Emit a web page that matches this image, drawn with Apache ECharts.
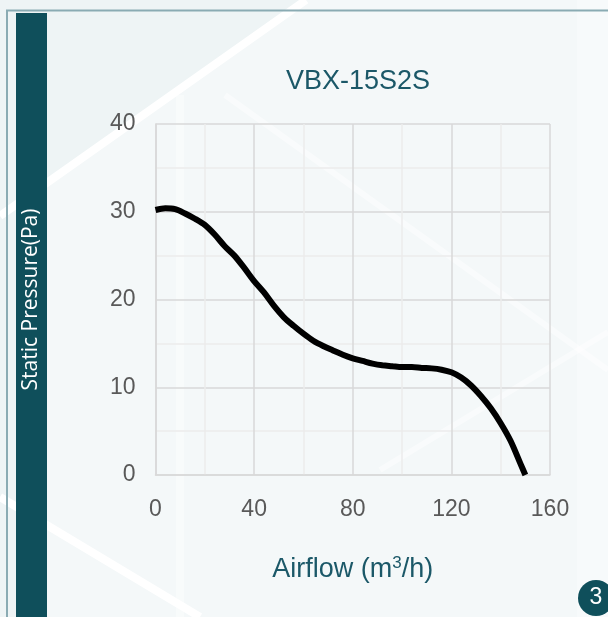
<!DOCTYPE html>
<html>
<head>
<meta charset="utf-8">
<style>
html,body{margin:0;padding:0;background:#eef4f5;}
#c{width:608px;height:617px;}
</style>
<script src="https://cdn.jsdelivr.net/npm/echarts@6/dist/echarts.min.js"></script>
</head>
<body>
<div id="c"></div>
<script>
// Data
const titleText = 'VBX-15S2S';
const xName = 'Airflow (m{sup|3}/h)';
const yName = 'Static Pressure(Pa)';
const airflow = [0, 4, 8, 12, 16, 20, 24, 28, 32, 36, 40, 44, 48, 52, 56, 60, 64, 68, 72, 76, 80, 84, 88, 92, 96, 100, 104, 108, 112, 116, 120, 124, 128, 132, 136, 140, 144, 148, 150];
const pressure = [30.2, 30.4, 30.3, 29.8, 29.2, 28.5, 27.4, 26.1, 25.0, 23.6, 22.1, 20.8, 19.3, 18.0, 17.0, 16.1, 15.3, 14.7, 14.2, 13.7, 13.3, 13.0, 12.7, 12.5, 12.4, 12.3, 12.3, 12.2, 12.15, 12.0, 11.7, 11.1, 10.2, 9.0, 7.6, 5.9, 3.9, 1.3, 0];
const xTicks = [0, 40, 80, 120, 160];
const yTicks = [0, 10, 20, 30, 40];
const pageNumber = '3';

const chart = echarts.init(document.getElementById('c'), null, {renderer: 'canvas'});
const dark = '#0f4f5b';
const major = '#d9d9d9';
const minor = '#ececec';

chart.setOption({
  backgroundColor: '#eef4f5',
  animation: false,
  title: {
    text: titleText,
    left: 353,
    top: 63,
    textAlign: 'center',
    textStyle: {fontFamily: 'Liberation Sans', fontSize: 27, fontWeight: 'normal', color: '#1b5868'}
  },
  grid: {left: 155.5, right: 58, top: 124, bottom: 142},
  xAxis: {
    type: 'value',
    min: xTicks[0], max: xTicks[xTicks.length - 1], interval: 40,
    name: xName,
    nameLocation: 'middle',
    nameGap: 80,
    nameTextStyle: {
      fontFamily: 'Liberation Sans', fontSize: 27, color: '#1b5868', lineHeight: 30,
      rich: {sup: {fontFamily: 'Liberation Sans', fontSize: 17, color: '#1b5868', verticalAlign: 'top', lineHeight: 30, padding: [0, 0, 12, 0]}}
    },
    axisLine: {show: true, lineStyle: {color: major, width: 1.5}},
    axisTick: {show: false},
    axisLabel: {margin: 23, fontFamily: 'Liberation Sans', fontSize: 23, color: '#595959'},
    splitLine: {show: true, lineStyle: {color: major, width: 1.5}},
    minorTick: {show: false, splitNumber: 2},
    minorSplitLine: {show: true, lineStyle: {color: minor, width: 1.5}}
  },
  yAxis: {
    type: 'value',
    min: yTicks[0], max: yTicks[yTicks.length - 1], interval: 10,
    axisLine: {show: true, lineStyle: {color: major, width: 1.5}},
    axisTick: {show: false},
    axisLabel: {margin: 20, fontFamily: 'Liberation Sans', fontSize: 23, color: '#595959'},
    splitLine: {show: true, lineStyle: {color: major, width: 1.5}},
    minorTick: {show: false, splitNumber: 2},
    minorSplitLine: {show: true, lineStyle: {color: minor, width: 1.5}}
  },
  graphic: [
    // background pattern
    {type: 'polygon', silent: true, z: -20, shape: {points: [[47, 183], [306, 0], [608, 0], [608, 617], [47, 617]]}, style: {fill: '#f4f8f9'}},
    {type: 'rect', silent: true, z: -19, shape: {x: 577, y: 0, width: 31, height: 617}, style: {fill: '#f7fafb'}},
    {type: 'line', silent: true, z: -18, shape: {x1: 0, y1: 216, x2: 306, y2: 0}, style: {stroke: '#ffffff', lineWidth: 8}},
    {type: 'line', silent: true, z: -18, shape: {x1: 225, y1: 95, x2: 608, y2: 370}, style: {stroke: '#ffffff', lineWidth: 6, opacity: 0.45}},
    {type: 'line', silent: true, z: -18, shape: {x1: 380, y1: 470, x2: 608, y2: 332}, style: {stroke: '#ffffff', lineWidth: 6, opacity: 0.45}},
    {type: 'line', silent: true, z: -18, shape: {x1: 0, y1: 497, x2: 200, y2: 617}, style: {stroke: '#ffffff', lineWidth: 8}},
    {type: 'line', silent: true, z: -18, shape: {x1: 180, y1: 95, x2: 180, y2: 617}, style: {stroke: '#ffffff', lineWidth: 8, opacity: 0.4}},
    // frame
    {type: 'polyline', silent: true, z: -5, shape: {points: [[7, 617], [7, 10.5], [608, 10.5]]}, style: {stroke: '#8aabb3', lineWidth: 2, fill: null}},
    // left bar with the y-axis title
    {type: 'rect', silent: true, z: -4, shape: {x: 16, y: 13, width: 31, height: 604}, style: {fill: dark}},
    {type: 'text', silent: true, z: 10, x: 31.5, y: 299.5, rotation: Math.PI / 2,
      style: {text: yName, fill: '#ffffff', fontFamily: 'Open Sans', fontSize: 21, align: 'center', verticalAlign: 'middle'}},
    // page badge
    {type: 'circle', silent: true, z: 10, shape: {cx: 596, cy: 598, r: 18}, style: {fill: dark}},
    {type: 'text', silent: true, z: 11, x: 596, y: 598, style: {text: pageNumber, fill: '#ffffff', fontFamily: 'Liberation Sans', fontSize: 23, align: 'center', verticalAlign: 'middle'}}
  ],
  series: [{
    type: 'line',
    data: airflow.map((x, i) => [x, pressure[i]]),
    smooth: 0.3,
    showSymbol: false,
    lineStyle: {color: '#000000', width: 6},
    z: 5
  }]
});
</script>
</body>
</html>
